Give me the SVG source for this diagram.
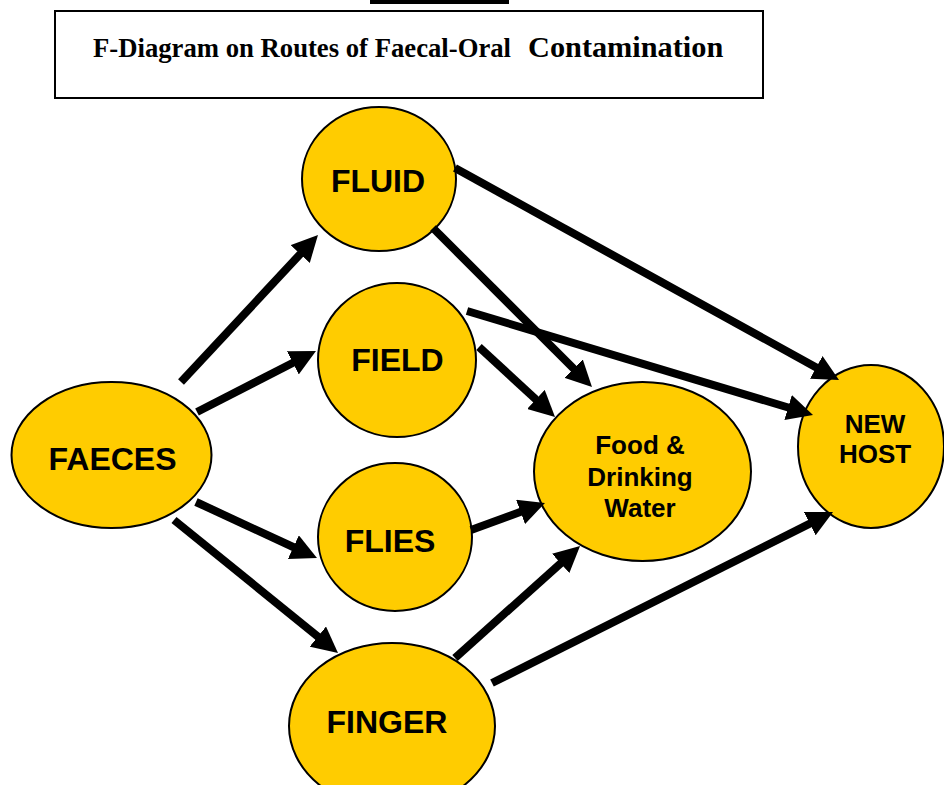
<svg xmlns="http://www.w3.org/2000/svg" width="944" height="785" viewBox="0 0 944 785">
<style>
.node{fill:#FFCC00;stroke:#000;stroke-width:2}
.lbl{font-family:"Liberation Sans",Arial,sans-serif;font-weight:bold;fill:#000;text-anchor:middle}
.big{font-size:32px}
.med{font-size:26px}
.conn line{stroke:#000;stroke-width:8;marker-end:url(#ah)}
.title{font-family:"Liberation Serif","Times New Roman",serif;font-weight:bold;fill:#000}
</style>
<defs>
<marker id="ah" markerUnits="userSpaceOnUse" markerWidth="26" markerHeight="26" viewBox="0 0 26 26" refX="14" refY="13" orient="auto">
<path d="M0,0 L26,13 L0,26 z" fill="#000"/>
</marker>
</defs>
<rect x="0" y="0" width="944" height="785" fill="#fff"/>
<g id="heading">
<rect x="370" y="0" width="139" height="4" fill="#000"/>
<rect x="55" y="11" width="708" height="87" fill="#fff" stroke="#000" stroke-width="2"/>
<text class="title" y="57"><tspan x="93" font-size="26.7">F-Diagram on Routes of Faecal-Oral</tspan><tspan x="528" font-size="30.3">Contamination</tspan></text>
</g>
<g id="faeces"><ellipse class="node" cx="111.5" cy="455" rx="100" ry="73"/><text class="lbl big" x="112.5" y="470">FAECES</text></g>
<g id="fluid"><ellipse class="node" cx="379" cy="179" rx="77" ry="72"/><text class="lbl big" x="378" y="192">FLUID</text></g>
<g id="field"><ellipse class="node" cx="397" cy="360" rx="79" ry="77"/><text class="lbl big" x="397.5" y="371">FIELD</text></g>
<g id="flies"><ellipse class="node" cx="395" cy="537" rx="77" ry="74"/><text class="lbl big" x="390" y="552">FLIES</text></g>
<g id="finger"><ellipse class="node" cx="392" cy="726" rx="103" ry="83"/><text class="lbl big" x="387" y="733">FINGER</text></g>
<g id="food"><ellipse class="node" cx="642.5" cy="471.5" rx="108.5" ry="89.5"/><text class="lbl med" x="640" y="454">Food &amp;</text><text class="lbl med" x="640" y="486">Drinking</text><text class="lbl med" x="640" y="517">Water</text></g>
<g id="newhost"><ellipse class="node" cx="871" cy="446.5" rx="73" ry="81.5"/><text class="lbl med" x="875" y="433">NEW</text><text class="lbl med" x="875" y="463">HOST</text></g>
<g id="connectors" class="conn">
<line x1="181" y1="382" x2="309.8" y2="243.8"/>
<line x1="197" y1="412" x2="305.3" y2="356.5"/>
<line x1="196" y1="502" x2="306.1" y2="553"/>
<line x1="174" y1="520" x2="328.7" y2="645.4"/>
<line x1="455" y1="168" x2="828.5" y2="374.2"/>
<line x1="433" y1="228" x2="583.5" y2="378.5"/>
<line x1="467" y1="311" x2="801.5" y2="411.5"/>
<line x1="479" y1="347" x2="546.2" y2="408.9"/>
<line x1="471" y1="530" x2="533.7" y2="507.1"/>
<line x1="455" y1="658" x2="571.1" y2="554"/>
<line x1="492" y1="683" x2="822.3" y2="517.4"/>
</g>
</svg>
